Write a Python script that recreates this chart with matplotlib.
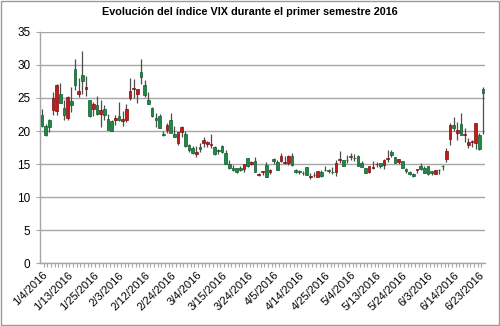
import matplotlib
matplotlib.use("Agg")
import matplotlib.pyplot as plt
from matplotlib.patches import Rectangle

# Trading days, first semester 2016
dates = [
    "1/4/2016", "1/5/2016", "1/6/2016", "1/7/2016", "1/8/2016", "1/11/2016", "1/12/2016",
    "1/13/2016", "1/14/2016", "1/15/2016", "1/19/2016", "1/20/2016", "1/21/2016", "1/22/2016",
    "1/25/2016", "1/26/2016", "1/27/2016", "1/28/2016", "1/29/2016", "2/1/2016", "2/2/2016",
    "2/3/2016", "2/4/2016", "2/5/2016", "2/8/2016", "2/9/2016", "2/10/2016", "2/11/2016",
    "2/12/2016", "2/16/2016", "2/17/2016", "2/18/2016", "2/19/2016", "2/22/2016", "2/23/2016",
    "2/24/2016", "2/25/2016", "2/26/2016", "2/29/2016", "3/1/2016", "3/2/2016", "3/3/2016",
    "3/4/2016", "3/7/2016", "3/8/2016", "3/9/2016", "3/10/2016", "3/11/2016", "3/14/2016",
    "3/15/2016", "3/16/2016", "3/17/2016", "3/18/2016", "3/21/2016", "3/22/2016", "3/23/2016",
    "3/24/2016", "3/28/2016", "3/29/2016", "3/30/2016", "3/31/2016", "4/1/2016", "4/4/2016",
    "4/5/2016", "4/6/2016", "4/7/2016", "4/8/2016", "4/11/2016", "4/12/2016", "4/13/2016",
    "4/14/2016", "4/15/2016", "4/18/2016", "4/19/2016", "4/20/2016", "4/21/2016", "4/22/2016",
    "4/25/2016", "4/26/2016", "4/27/2016", "4/28/2016", "4/29/2016", "5/2/2016", "5/3/2016",
    "5/4/2016", "5/5/2016", "5/6/2016", "5/9/2016", "5/10/2016", "5/11/2016", "5/12/2016",
    "5/13/2016", "5/16/2016", "5/17/2016", "5/18/2016", "5/19/2016", "5/20/2016", "5/23/2016",
    "5/24/2016", "5/25/2016", "5/26/2016", "5/27/2016", "5/31/2016", "6/1/2016", "6/2/2016",
    "6/3/2016", "6/6/2016", "6/7/2016", "6/8/2016", "6/9/2016", "6/10/2016", "6/13/2016",
    "6/14/2016", "6/15/2016", "6/16/2016", "6/17/2016", "6/20/2016", "6/21/2016", "6/22/2016",
    "6/23/2016", "6/24/2016",
]

apertura = [
    22.48, 20.75, 21.67, 23.22, 22.96, 25.58, 23.41, 21.91, 24.54, 29.44, 25.65, 28.50, 26.41, 24.73,
    23.36, 23.93, 22.61, 23.28, 21.88, 21.46, 21.63, 22.29, 21.46, 21.65, 24.93, 26.30, 25.60, 28.95,
    26.98, 24.71, 23.44, 21.98, 22.30, 19.61, 20.22, 21.68, 19.58, 18.15, 19.79, 19.58, 17.81, 17.41,
    16.48, 17.64, 18.24, 18.04, 17.91, 17.56, 17.09, 17.69, 16.74, 15.06, 14.40, 14.40, 14.41, 14.19,
    15.86, 15.07, 15.48, 13.39, 13.81, 14.79, 13.76, 15.70, 15.35, 15.53, 15.15, 15.17, 16.16, 14.17,
    13.91, 13.65, 14.58, 13.10, 13.41, 13.06, 13.79, 14.09, 14.17, 13.82, 13.73, 15.59, 15.61, 15.68,
    16.21, 15.85, 16.20, 15.12, 14.35, 13.81, 14.40, 14.98, 15.10, 14.85, 15.80, 16.88, 16.00, 15.36,
    15.48, 14.31, 13.85, 13.49, 14.10, 14.77, 14.41, 14.66, 13.88, 13.48, 14.12, 14.65, 15.76, 18.78,
    20.84, 19.67, 21.10, 19.40, 17.88, 18.39, 18.24, 19.43, 26.30,
]
maximo = [
    23.36, 21.06, 21.86, 25.86, 27.08, 27.23, 24.71, 25.29, 26.61, 30.95, 28.05, 32.09, 28.29, 24.73,
    24.36, 25.37, 24.77, 23.88, 22.64, 21.68, 22.42, 24.37, 22.99, 24.08, 28.08, 27.80, 26.39, 30.90,
    27.68, 25.91, 23.60, 22.75, 22.64, 20.03, 21.18, 22.67, 20.77, 19.87, 20.75, 19.93, 18.04, 17.80,
    17.66, 18.13, 19.05, 18.50, 19.60, 17.80, 17.24, 17.83, 17.10, 15.62, 14.86, 14.46, 14.66, 14.96,
    15.89, 15.52, 16.00, 13.64, 14.00, 15.32, 14.27, 15.96, 15.56, 16.66, 16.29, 16.40, 16.60, 14.31,
    14.12, 13.99, 14.60, 13.67, 13.74, 14.01, 14.04, 14.69, 14.29, 14.53, 15.61, 16.92, 15.64, 16.43,
    16.74, 16.58, 16.41, 15.53, 14.40, 14.77, 15.40, 15.37, 15.18, 15.75, 17.05, 17.11, 16.12, 15.83,
    15.48, 14.35, 13.89, 13.60, 14.31, 15.17, 14.65, 14.74, 13.90, 14.10, 14.25, 14.89, 17.36, 21.21,
    22.12, 21.31, 22.77, 20.43, 18.99, 18.71, 21.24, 19.72, 26.72,
]
minimo = [
    20.67, 19.25, 19.80, 22.40, 22.48, 24.17, 21.61, 21.73, 22.84, 26.26, 25.18, 25.56, 25.31, 22.10,
    22.31, 22.39, 20.55, 21.64, 20.17, 19.93, 20.84, 21.55, 20.82, 21.41, 24.70, 25.07, 24.29, 27.19,
    25.20, 24.05, 22.12, 20.67, 20.45, 19.17, 19.71, 20.08, 19.06, 17.95, 19.12, 17.57, 16.86, 16.55,
    16.01, 16.76, 17.64, 17.55, 17.41, 16.42, 16.52, 16.66, 14.99, 14.30, 13.88, 13.66, 13.94, 13.82,
    14.59, 14.86, 13.75, 13.26, 13.35, 12.96, 13.46, 15.03, 14.07, 15.27, 14.95, 14.80, 14.67, 13.69,
    13.50, 13.34, 13.33, 12.70, 13.00, 12.96, 13.05, 13.94, 13.61, 13.52, 13.14, 15.08, 14.68, 15.16,
    15.68, 15.40, 14.63, 14.49, 13.61, 13.60, 14.18, 14.52, 14.38, 14.28, 15.34, 16.10, 15.13, 15.07,
    14.39, 13.62, 13.41, 13.10, 13.70, 14.12, 13.58, 13.31, 13.36, 13.43, 13.50, 14.09, 15.28, 17.88,
    19.96, 18.61, 19.37, 18.35, 17.46, 17.62, 17.31, 17.19, 19.50,
]
cierre = [
    20.70, 19.34, 20.59, 24.99, 27.01, 24.30, 22.47, 25.22, 23.95, 27.02, 26.05, 27.59, 26.69, 22.34,
    24.15, 22.50, 23.11, 22.42, 20.20, 19.98, 21.98, 21.65, 21.84, 23.38, 26.00, 26.54, 26.29, 28.14,
    25.40, 24.11, 22.31, 21.64, 20.53, 19.38, 20.98, 19.72, 19.11, 19.81, 20.55, 17.70, 17.09, 16.70,
    16.86, 17.35, 18.67, 18.34, 18.05, 16.50, 16.92, 16.84, 14.99, 14.44, 14.02, 13.79, 14.17, 14.94,
    14.74, 15.24, 13.82, 13.56, 13.95, 13.10, 14.12, 15.42, 14.09, 16.16, 15.36, 16.26, 14.85, 13.84,
    13.72, 13.62, 13.35, 13.24, 13.28, 13.95, 13.22, 14.08, 13.96, 13.77, 15.22, 15.70, 14.68, 15.60,
    16.05, 15.91, 14.72, 14.57, 13.63, 14.69, 14.41, 15.04, 14.68, 15.57, 15.95, 16.33, 15.20, 15.82,
    14.42, 13.90, 13.43, 13.12, 14.19, 14.20, 13.63, 13.47, 13.65, 14.05, 14.08, 14.64, 17.03, 20.97,
    20.50, 20.14, 19.37, 19.41, 18.37, 18.48, 21.17, 17.25, 25.76,
]

titulo = "Evolución del índice VIX durante el primer semestre 2016"
y_ticks = [0, 5, 10, 15, 20, 25, 30, 35]

verde = "#1d8a45"
verde_borde = "#0d5a2a"
rojo = "#c41a1a"
rojo_borde = "#7a0c0c"

fig = plt.figure(figsize=(5.0, 3.26), dpi=100)
ax = fig.add_axes([0.08, 0.193, 0.89, 0.709])

x = list(range(len(dates)))
for i in x:
    o, h, l, c = apertura[i], maximo[i], minimo[i], cierre[i]
    ax.vlines(i, l, h, color="#4d4d4d", linewidth=0.9, zorder=2)
    if c < o:
        fc, ec = verde, verde_borde
    else:
        fc, ec = rojo, rojo_borde
    abajo = min(o, c)
    alto = max(abs(c - o), 0.08)
    ax.add_patch(Rectangle((i - 0.36, abajo), 0.72, alto, facecolor=fc,
                           edgecolor=ec, linewidth=0.5, zorder=3))

ax.set_xlim(-0.5, len(dates) - 0.5)
ax.set_ylim(0, 35)
ax.set_yticks(y_ticks)
ax.grid(axis="y", color="#a6a6a6", linewidth=1.0, zorder=0)
ax.set_axisbelow(True)

ax.set_xticks(x[::7])
ax.set_xticklabels(dates[::7], rotation=45, ha="right", rotation_mode="anchor",
                   fontsize=8, family="Liberation Sans")
ax.set_xticks([i + 0.5 for i in x[:-1]], minor=True)
ax.tick_params(axis="x", which="major", length=0, pad=5)
ax.tick_params(axis="x", which="minor", length=3, color="#a6a6a6", width=0.8)
ax.tick_params(axis="y", length=3, color="#a6a6a6", width=0.8, labelsize=8.5, pad=4)
for lab in ax.get_yticklabels():
    lab.set_family("Liberation Sans")

for s in ["top", "right"]:
    ax.spines[s].set_visible(False)
for s in ["left", "bottom"]:
    ax.spines[s].set_color("#a6a6a6")
    ax.spines[s].set_linewidth(1.0)

fig.text(0.5, 0.962, titulo, ha="center", va="center", fontsize=7.8, fontweight="bold",
         family="Liberation Sans")

fig.add_artist(Rectangle((0.001, 0.002), 0.997, 0.995, transform=fig.transFigure,
                         fill=False, edgecolor="#9a9a9a", linewidth=1.0))

fig.savefig("out.png", dpi=100)
